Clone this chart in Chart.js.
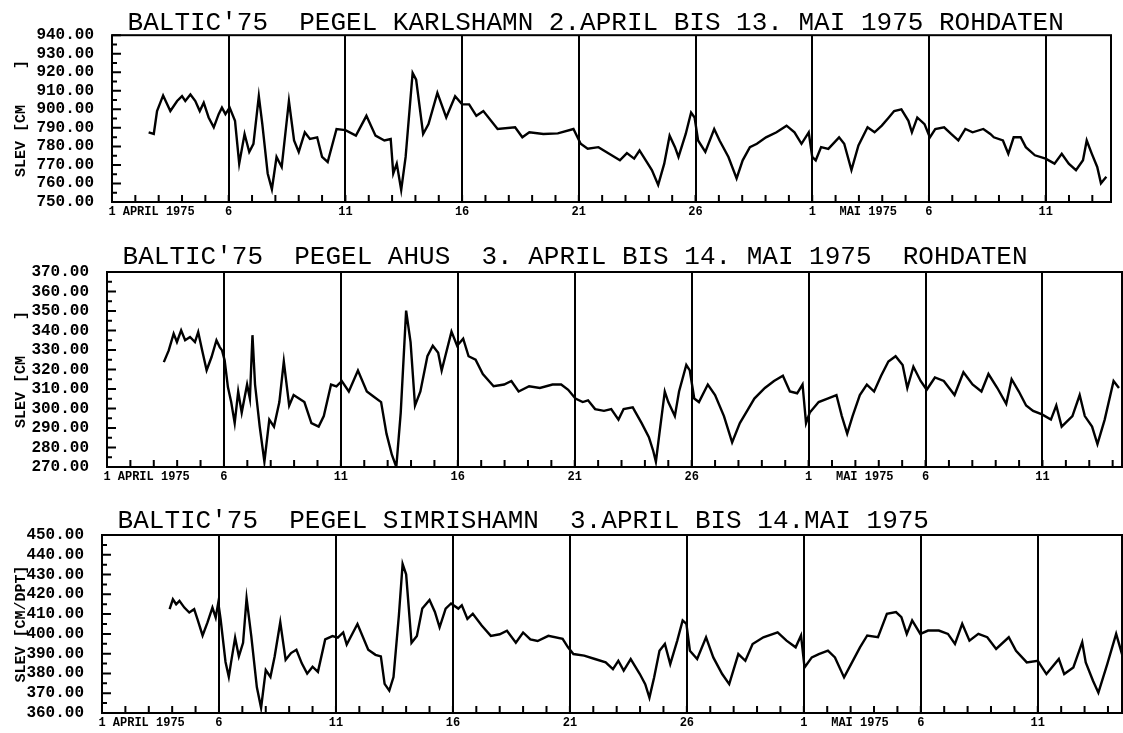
<!DOCTYPE html>
<html>
<head>
<meta charset="utf-8">
<script src="https://cdn.jsdelivr.net/npm/chart.js@4.4.1/dist/chart.umd.min.js"></script>
<style>
  body { margin: 0; background: #fff; }
  canvas { position: absolute; left: 0; }
</style>
</head>
<body>
<canvas id="karlshamn" width="1123" height="225" style="top:0px"></canvas>
<canvas id="ahus" width="1123" height="255" style="top:232px"></canvas>
<canvas id="simrishamn" width="1123" height="240" style="top:493px"></canvas>
<script>
// day numbers: 1 = 1. April 1975, 31 = 1. Mai 1975
const karlshamnDays = [2.57,2.79,2.93,3.19,3.5,3.79,4.0,4.14,4.36,4.57,4.76,4.93,5.14,5.36,5.57,5.71,5.86,6.04,
  6.27,6.45,6.68,6.88,7.06,7.29,7.44,7.67,7.85,8.05,8.27,8.58,8.8,9.0,9.26,9.48,9.79,10.0,10.24,10.62,11.0,11.45,11.9,12.29,12.67,12.94,13.05,13.2,13.39,13.58,13.88,14.03,14.33,14.56,14.94,15.32,15.7,16.0,16.3,16.61,16.91,17.52,18.27,18.58,18.88,19.48,20.1,
  20.77,21.08,21.38,21.84,22.3,22.76,23.06,23.37,23.6,24.13,24.4,24.66,24.89,25.12,25.27,25.58,25.81,25.96,26.11,26.42,26.8,27.03,27.41,27.76,28.02,28.33,28.63,29.02,29.47,29.9,30.24,30.54,30.85,31.0,31.15,31.38,31.69,32.15,32.37,32.68,32.98,33.37,33.67,33.98,34.28,34.51,34.82,35.12,35.27,35.5,35.81,36.04,36.27,36.65,36.95,37.26,37.56,37.87,38.33,38.63,38.78,39.17,39.4,39.63,39.93,40.15,40.54,41.0,41.38,41.69,41.99,42.3,42.6,42.76,42.98,43.21,43.37,43.6];
const karlshamnLevel = [787.6,786.7,799.1,807.5,799.1,804.5,807.1,804.5,808,804.5,799.1,803.6,795.6,790.3,797.4,800.9,797.4,800.9,
  793.8,770.7,786.7,777,781.4,807.1,792,765.4,756.9,774.3,768.9,804.5,783.2,777,787.6,784,784.9,774.3,771.6,789.4,788.8,785.8,796.5,785.8,783.2,784,765.4,770.7,756.5,774.3,819.6,816,786.7,792,808.9,795.6,807.1,802.7,802.7,796.5,799.1,789.4,790.3,784.9,787.6,786.7,787,
  789.4,781.4,778.7,779.6,776,772.5,776.4,773.4,777.8,767.2,759.2,770.7,785.8,779.6,774.3,786.7,798.3,795.6,783.2,777,789.4,783.2,774.3,762.7,772.5,779.6,781.4,784.9,787.6,791.2,787.6,781.4,787.6,774.3,772.5,779.6,778.7,784.9,781.4,767.2,780.5,790.3,787.6,791.2,795.6,799.1,800,793.8,787.6,795.6,792,784.9,789.4,790.3,786.7,783.2,789.4,787.6,789.4,786.7,784.9,783.2,776,784.9,784.9,779.6,775.2,773.4,770.7,776,770.7,767.2,772.5,783.2,776,768.9,760.1,763.6];

const ahusDays = [3.43,3.64,3.85,3.99,4.17,4.34,4.55,4.76,4.9,5.07,5.26,5.47,5.68,5.82,5.92,6.03,6.17,
  6.31,6.46,6.61,6.76,6.99,7.11,7.22,7.33,7.53,7.73,7.94,8.14,8.37,8.56,8.79,8.98,9.21,9.44,9.74,10.05,10.27,10.58,10.81,11.04,11.34,11.73,12.11,12.41,12.72,12.95,13.18,13.37,13.56,13.79,13.98,14.17,14.4,14.7,14.93,15.16,15.31,15.73,15.97,16.23,16.46,16.76,17.07,17.53,17.98,18.29,18.6,19.05,19.51,20.05,
  20.42,20.72,21.03,21.34,21.57,21.87,22.25,22.56,22.87,23.09,23.48,23.86,24.17,24.36,24.47,24.62,24.85,25.0,25.28,25.46,25.77,25.92,26.11,26.31,26.69,27.0,27.38,27.73,28.06,28.37,28.68,29.13,29.52,29.9,30.2,30.51,30.74,30.89,31.05,31.43,31.81,32.19,32.42,32.65,32.88,33.19,33.49,33.8,34.1,34.41,34.72,35.02,35.22,35.48,35.79,36.05,36.4,36.78,37.24,37.62,38.01,38.39,38.69,39.07,39.45,39.68,39.99,40.3,40.6,40.98,41.36,41.59,41.82,42.28,42.59,42.81,43.12,43.35,43.66,44.04,44.27];
const ahusLevel = [323.8,329.8,338.4,334.1,340.1,335,336.7,334.1,339.2,329.8,319.6,326.4,335,331.5,329.8,324.7,311,
  303.3,292.5,308.7,297.9,312.3,305.1,337.6,312.3,290.7,272.7,294.3,290.7,303.3,324.1,301.5,306.9,305.1,303.3,292.5,290.7,296.1,312.3,311.4,314.1,308.7,319.5,308.7,306,303.3,287.1,276.3,270,297.9,350.2,334,301.5,308.7,326.8,332.2,328.6,319.5,339.4,332.2,335.8,326.8,325,317.7,311.4,312.3,314.1,308.7,311.4,310.5,312.3,
  312.3,309.6,305.1,303.3,304.2,299.7,298.8,299.7,294.3,299.7,300.6,292.5,285.3,278.1,272.7,287.1,308.7,303.3,296.1,308.7,322.3,319.5,305.1,303.3,312.3,306.9,296.1,282.6,292.5,298.8,305.1,310.5,314.1,316.8,308.7,307.8,312.3,292.5,297.9,303.3,305.1,306.9,296.1,287.1,296.1,306.9,312.3,308.7,316.8,324.1,326.8,322.3,310.5,321.4,314.1,309.6,315.9,314.1,306.9,318.6,312.3,308.7,317.7,310.5,302.4,315,308.7,301.5,298.8,297,294.3,301.5,290.7,296.1,306.9,296.1,290.7,281.7,294.3,314.1,310.5];

const simrishamnDays = [3.89,4.03,4.17,4.31,4.52,4.73,4.94,5.08,5.3,5.51,5.72,5.86,5.97,6.07,6.28,6.42,
  6.51,6.69,6.85,7.03,7.18,7.38,7.62,7.8,8.0,8.2,8.38,8.62,8.85,9.08,9.31,9.54,9.77,10.0,10.23,10.54,10.85,11.08,11.31,11.46,11.92,12.38,12.69,12.92,13.08,13.28,13.46,13.69,13.85,14.0,14.23,14.46,14.69,15.0,15.23,15.43,15.69,15.92,16.23,16.38,16.62,16.85,17.23,17.62,18.0,18.31,18.69,19.0,19.31,19.62,20.08,
  20.69,20.92,21.15,21.61,22.07,22.53,22.84,23.07,23.3,23.6,23.99,24.22,24.4,24.6,24.83,25.06,25.29,25.59,25.82,25.98,26.13,26.44,26.82,27.13,27.51,27.81,28.2,28.5,28.81,29.27,29.88,30.26,30.65,30.88,31.03,31.34,31.64,32.03,32.33,32.72,33.02,33.4,33.71,34.17,34.55,34.94,35.17,35.4,35.63,35.98,36.31,36.77,37.16,37.46,37.77,38.08,38.46,38.84,39.22,39.76,40.07,40.53,41.0,41.37,41.9,42.13,42.52,42.9,43.05,43.36,43.59,43.97,44.35,44.66];
const simrishamnLevel = [412.5,417.5,415,416.7,413.3,410.8,412.5,407.5,399.2,405.8,413.3,408.3,415.8,407.5,385.8,378.3,
  385.1,398.1,388.6,395.5,418,399,373,362.6,381.7,378.2,388.6,405.9,386.9,390.3,392,385.1,379.9,383.4,380.8,397.2,398.9,398.1,400.7,394.6,405,392,389.4,388.6,374.7,371.3,378.2,409.3,435.3,430.1,395.5,399,412.8,417.1,411.1,403.3,412.8,415.4,412.8,414.5,407.6,410.2,404.2,399,399.8,401.6,395.5,400.7,397.2,396.4,399,
  397.5,393.2,389.8,389,387.3,385.6,382.2,386.4,381.4,387.3,379.7,374.6,367.8,378,391.5,394.9,384.7,396.6,406.8,405.1,391.5,387.3,398.3,388.1,379.7,374.6,389.8,386.4,394.9,398.3,400.8,396.6,393.2,399.2,383,388.1,389.8,391.5,388.1,378,384.7,393.2,399.2,398.3,410.2,411,408.5,400,406.8,400,401.7,401.7,400,394.9,405.1,396.6,400,398.3,392.4,398.3,391.5,385.6,386.4,379.7,387.3,379.7,383,395.8,385.6,376.3,370.3,384.7,400,387.3];

// axis ticks and their printed labels
const karlshamnTicks = [750,760,770,780,790,800,810,820,830,840];
const karlshamnTickText = ['750.00','760.00','770.00','780.00','790.00','900.00','910.00','920.00','930.00','940.00'];
const ahusTicks = [270,280,290,300,310,320,330,340,350,360,370];
const ahusTickText = ['270.00','280.00','290.00','300.00','310.00','320.00','330.00','340.00','350.00','360.00','370.00'];
const simrishamnTicks = [360,370,380,390,400,410,420,430,440,450];
const simrishamnTickText = ['360.00','370.00','380.00','390.00','400.00','410.00','420.00','430.00','440.00','450.00'];
const dayTicks = [1, 3, 6, 11, 16, 21, 26, 31, 33.4, 36, 41];
const dayTickText = ['1', 'APRIL 1975', '6', '11', '16', '21', '26', '1', 'MAI 1975', '6', '11'];

const MONO = "'Liberation Mono', 'DejaVu Sans Mono', monospace";

// box round the plot, daily ticks on the time axis, small ticks on the level axis
const frame = {
  id: 'frame',
  afterDatasetsDraw(chart) {
    const {ctx, chartArea: a, scales: {x, y}} = chart;
    ctx.save();
    ctx.strokeStyle = '#000';
    ctx.lineWidth = 2;
    ctx.strokeRect(a.left, a.top, a.width, a.height);
    ctx.beginPath();
    for (let d = 2; d < x.max; d++) {
      const px = x.getPixelForValue(d);
      ctx.moveTo(px, a.bottom);
      ctx.lineTo(px, a.bottom - 7);
    }
    for (let v = y.min; v <= y.max; v += 5) {
      const py = y.getPixelForValue(v);
      ctx.moveTo(a.left, py);
      ctx.lineTo(a.left + (v % 10 === 0 ? 9 : 5), py);
    }
    ctx.stroke();
    ctx.restore();
  }
};

function makePanel(id, p) {
  const el = document.getElementById(id);
  return new Chart(el, {
    type: 'line',
    data: {
      datasets: [{
        data: p.days.map((d, i) => ({x: d, y: p.level[i]})),
        borderColor: '#000',
        borderWidth: 2.4,
        pointRadius: 0,
        tension: 0
      }]
    },
    options: {
      responsive: false,
      animation: false,
      events: [],
      layout: {padding: {left: 0, right: p.padRight, top: 0, bottom: 0}},
      plugins: {
        legend: {display: false},
        tooltip: {enabled: false},
        title: {
          display: true, text: p.title, align: 'start', fullSize: false, color: '#000',
          font: {family: MONO, size: 26, weight: 'normal', lineHeight: 0.9},
          padding: p.titlePad
        }
      },
      scales: {
        x: {
          type: 'linear', min: 1, max: p.xMax,
          afterBuildTicks: s => { s.ticks = dayTicks.map(v => ({value: v})); },
          afterFit: s => { s.height = p.axisHeight; },
          grid: {
            color: c => (c.tick && c.tick.value > 1 && c.tick.value % 5 === 1) ? '#000' : 'rgba(0,0,0,0)',
            lineWidth: 2, drawTicks: false
          },
          border: {display: false},
          ticks: {
            autoSkip: false, maxRotation: 0, padding: 3, color: '#000',
            font: {family: MONO, size: 12, weight: 'bold'},
            callback: v => dayTickText[dayTicks.indexOf(v)]
          }
        },
        y: {
          min: p.yTicks[0], max: p.yTicks[p.yTicks.length - 1],
          afterBuildTicks: s => { s.ticks = p.yTicks.map(v => ({value: v})); },
          afterFit: s => { s.width = p.left; },
          grid: {display: false},
          border: {display: false},
          ticks: {
            autoSkip: false, padding: 10, color: '#000',
            font: {family: MONO, size: 16, weight: 'bold'},
            callback: v => p.yText[p.yTicks.indexOf(v)]
          },
          title: {
            display: true, text: p.yTitle, color: '#000',
            font: {family: MONO, size: 15, weight: 'bold'},
            padding: {top: 12, bottom: 0}
          }
        }
      }
    },
    plugins: [frame]
  });
}

makePanel('karlshamn', {
  title: " BALTIC'75  PEGEL KARLSHAMN 2.APRIL BIS 13. MAI 1975 ROHDATEN",
  yTitle: 'SLEV [CM    ]',
  days: karlshamnDays, level: karlshamnLevel,
  yTicks: karlshamnTicks, yText: karlshamnTickText,
  xMax: 43.8, left: 112, padRight: 12, axisHeight: 23,
  titlePad: {top: 11.8, bottom: 0}
});

makePanel('ahus', {
  title: " BALTIC'75  PEGEL AHUS  3. APRIL BIS 14. MAI 1975  ROHDATEN",
  yTitle: 'SLEV [CM    ]',
  days: ahusDays, level: ahusLevel,
  yTicks: ahusTicks, yText: ahusTickText,
  xMax: 44.4, left: 107, padRight: 1, axisHeight: 20,
  titlePad: {top: 13.8, bottom: 2.8}
});

makePanel('simrishamn', {
  title: " BALTIC'75  PEGEL SIMRISHAMN  3.APRIL BIS 14.MAI 1975",
  yTitle: 'SLEV [CM/DPT]',
  days: simrishamnDays, level: simrishamnLevel,
  yTicks: simrishamnTicks, yText: simrishamnTickText,
  xMax: 44.6, left: 102, padRight: 1, axisHeight: 20,
  titlePad: {top: 16.8, bottom: 1.8}
});
</script>
</body>
</html>
